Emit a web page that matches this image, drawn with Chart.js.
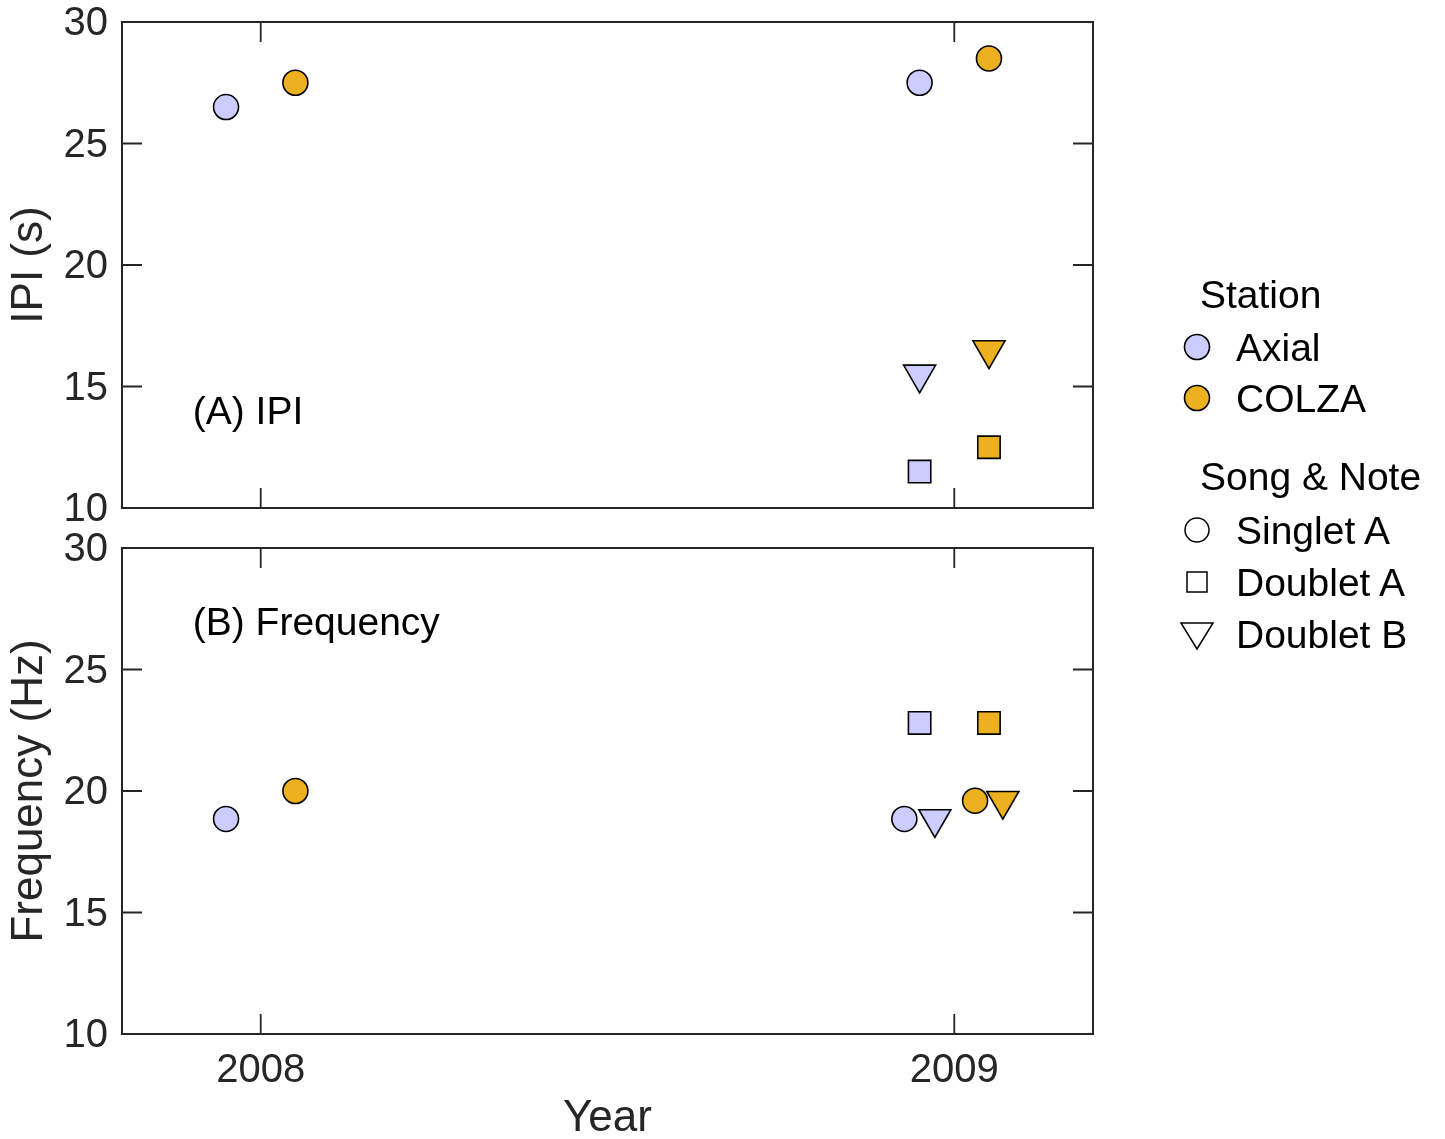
<!DOCTYPE html>
<html>
<head>
<meta charset="utf-8">
<script src="https://cdn.jsdelivr.net/npm/chart.js@4.4.0/dist/chart.umd.min.js"></script>
<style>
  body { margin: 0; background: #fff; }
  #wrap { position: relative; width: 1445px; height: 1139px; background: #fff; overflow: hidden; }
  canvas { position: absolute; left: 0; }
  #topChart { top: 0; }
  #bottomChart { top: 526px; }
  #legend { position: absolute; left: 0; top: 0; pointer-events: none; }
</style>
</head>
<body>
<div id="wrap">
  <canvas id="topChart" width="1445" height="530"></canvas>
  <canvas id="bottomChart" width="1445" height="613"></canvas>
  <svg id="legend" width="1445" height="1139" xmlns="http://www.w3.org/2000/svg"></svg>
</div>
<script>
// categories
const years = [2008, 2009];
const stations = ['Axial', 'COLZA'];
const noteTypes = ['Singlet A', 'Doublet A', 'Doublet B'];
const yTicks = [10, 15, 20, 25, 30];

// IPI (s), one value per year, null = no such note that year
const ipiAxialSingletA = [26.5, 27.5];
const ipiAxialDoubletA = [null, 11.5];
const ipiAxialDoubletB = [null, 15.5];
const ipiColzaSingletA = [27.5, 28.5];
const ipiColzaDoubletA = [null, 12.5];
const ipiColzaDoubletB = [null, 16.5];

// Frequency (Hz)
const freqAxialSingletA = [18.85, 18.85];
const freqAxialDoubletA = [null, 22.8];
const freqAxialDoubletB = [null, 18.85];
const freqColzaSingletA = [20.0, 19.6];
const freqColzaDoubletA = [null, 22.8];
const freqColzaDoubletB = [null, 19.6];

// styling
const FONT = "'Liberation Sans', Arimo, Arial, Helvetica, sans-serif";
const AXIS_COLOR = '#262626';
const stationColors = ['#CCCCFF', '#EDB120'];
const noteMarkers = [
  { pointStyle: 'circle', radius: 12.5, rotation: 0 },
  { pointStyle: 'rect', radius: 15.8, rotation: 0 },
  { pointStyle: 'triangle', radius: 18.5, rotation: 180 }
];

// small horizontal dodge so overlapping markers sit side by side
const ipiDodge = [
  [[-0.05, -0.05], [-0.05, -0.05], [-0.05, -0.05]],
  [[0.05, 0.05], [0.05, 0.05], [0.05, 0.05]]
];
const freqDodge = [
  [[-0.05, -0.072], [0, -0.05], [0, -0.028]],
  [[0.05, 0.03], [0, 0.05], [0, 0.07]]
];

Chart.defaults.font.family = FONT;
Chart.defaults.color = AXIS_COLOR;

function makeDatasets(values, dodge) {
  var sets = [];
  stations.forEach(function (st, s) {
    noteTypes.forEach(function (nt, n) {
      var pts = [];
      years.forEach(function (yr, i) {
        var v = values[s][n][i];
        if (v !== null) pts.push({ x: yr + dodge[s][n][i], y: v });
      });
      var m = noteMarkers[n];
      sets.push({
        label: st + ' ' + nt,
        data: pts,
        pointStyle: m.pointStyle,
        pointRadius: m.radius,
        pointRotation: m.rotation,
        backgroundColor: stationColors[s],
        borderColor: '#000',
        borderWidth: 1.6
      });
    });
  });
  return sets;
}

// box around the plot area with inward tick marks, plus the panel label
const framePlugin = {
  id: 'frame',
  beforeDatasetsDraw: function (chart, args, opts) {
    var ctx = chart.ctx, a = chart.chartArea;
    var x = chart.scales.x, y = chart.scales.y;
    ctx.save();
    ctx.strokeStyle = AXIS_COLOR;
    ctx.lineWidth = 2;
    ctx.strokeRect(a.left, a.top, a.right - a.left, a.bottom - a.top);
    ctx.lineWidth = 1.8;
    ctx.beginPath();
    yTicks.forEach(function (v) {
      var py = y.getPixelForValue(v);
      ctx.moveTo(a.left, py); ctx.lineTo(a.left + 20, py);
      ctx.moveTo(a.right, py); ctx.lineTo(a.right - 20, py);
    });
    years.forEach(function (v) {
      var px = x.getPixelForValue(v);
      ctx.moveTo(px, a.top); ctx.lineTo(px, a.top + 20);
      ctx.moveTo(px, a.bottom); ctx.lineTo(px, a.bottom - 20);
    });
    ctx.stroke();
    ctx.fillStyle = '#000';
    ctx.font = '39px ' + FONT;
    ctx.textAlign = 'left';
    ctx.textBaseline = 'middle';
    ctx.fillText(opts.text, x.getPixelForValue(opts.x), y.getPixelForValue(opts.y));
    ctx.restore();
  }
};

function zeroPad(scale) {
  scale.paddingTop = 0; scale.paddingBottom = 0;
  scale.paddingLeft = 0; scale.paddingRight = 0;
}

function makeChart(id, datasets, yTitle, label, showX) {
  var ctx = document.getElementById(id);
  return new Chart(ctx, {
    type: 'scatter',
    data: { datasets: datasets },
    plugins: [framePlugin],
    options: {
      responsive: false,
      animation: false,
      events: [],
      layout: { padding: { left: 0, top: 22, right: 352, bottom: showX ? 0 : 22 } },
      plugins: {
        legend: { display: false },
        tooltip: { enabled: false },
        frame: label
      },
      scales: {
        x: {
          type: 'linear',
          display: showX,
          min: 2007.8,
          max: 2009.2,
          grid: { display: false, drawTicks: false },
          border: { display: false },
          afterBuildTicks: function (scale) {
            scale.ticks = years.map(function (v) { return { value: v }; });
          },
          afterFit: function (scale) { scale.height = showX ? 105 : 0; zeroPad(scale); },
          ticks: {
            font: { size: 40, lineHeight: 1 },
            color: AXIS_COLOR,
            padding: 17,
            maxRotation: 0,
            callback: function (v) { return String(v); }
          },
          title: {
            display: true,
            text: 'Year',
            font: { size: 44, lineHeight: 0.9 },
            color: AXIS_COLOR,
            padding: { top: 0, bottom: 0 }
          }
        },
        y: {
          min: 10,
          max: 30,
          grid: { display: false, drawTicks: false },
          border: { display: false },
          afterBuildTicks: function (scale) {
            scale.ticks = yTicks.map(function (v) { return { value: v }; });
          },
          afterFit: function (scale) { scale.width = 122; zeroPad(scale); },
          ticks: {
            font: { size: 40, lineHeight: 1 },
            color: AXIS_COLOR,
            padding: 14,
            labelOffset: 2
          },
          title: {
            display: true,
            text: yTitle,
            font: { size: 44, lineHeight: 1 },
            color: AXIS_COLOR,
            padding: { top: 8, bottom: 0 }
          }
        }
      }
    }
  });
}

var ipiValues = [
  [ipiAxialSingletA, ipiAxialDoubletA, ipiAxialDoubletB],
  [ipiColzaSingletA, ipiColzaDoubletA, ipiColzaDoubletB]
];
var freqValues = [
  [freqAxialSingletA, freqAxialDoubletA, freqAxialDoubletB],
  [freqColzaSingletA, freqColzaDoubletA, freqColzaDoubletB]
];

makeChart('topChart', makeDatasets(ipiValues, ipiDodge), 'IPI (s)',
  { text: '(A) IPI', x: 2007.902, y: 13.9 }, false);
makeChart('bottomChart', makeDatasets(freqValues, freqDodge), 'Frequency (Hz)',
  { text: '(B) Frequency', x: 2007.902, y: 26.85 }, true);

// legend on the right, built from the same category arrays
(function () {
  var NS = 'http://www.w3.org/2000/svg';
  var svg = document.getElementById('legend');
  function el(tag, attrs) {
    var e = document.createElementNS(NS, tag);
    for (var k in attrs) e.setAttribute(k, attrs[k]);
    svg.appendChild(e);
    return e;
  }
  function text(str, x, y) {
    var t = el('text', { x: x, y: y, 'font-family': FONT, 'font-size': 39, fill: '#000' });
    t.textContent = str;
  }
  var mx = 1197, tx = 1236;
  text('Station', 1200, 308);
  var stationRows = [347, 398];
  stations.forEach(function (st, i) {
    var cy = stationRows[i];
    el('circle', { cx: mx, cy: cy, r: 12.5, fill: stationColors[i], stroke: '#000', 'stroke-width': 1.6 });
    text(st, tx, cy + 14);
  });
  text('Song & Note', 1200, 490);
  var noteRows = [530, 582, 634];
  noteTypes.forEach(function (nt, i) {
    var cy = noteRows[i];
    if (i === 0) {
      el('circle', { cx: mx, cy: cy, r: 12, fill: 'none', stroke: '#000', 'stroke-width': 1.5 });
    } else if (i === 1) {
      el('rect', { x: mx - 10, y: cy - 10, width: 20, height: 20, fill: 'none', stroke: '#000', 'stroke-width': 1.5 });
    } else {
      el('polygon', { points: (mx - 16) + ',' + (cy - 11) + ' ' + (mx + 16) + ',' + (cy - 11) + ' ' + mx + ',' + (cy + 15),
        fill: 'none', stroke: '#000', 'stroke-width': 1.5, 'stroke-linejoin': 'miter' });
    }
    text(nt, tx, cy + 14);
  });
})();
</script>
</body>
</html>
